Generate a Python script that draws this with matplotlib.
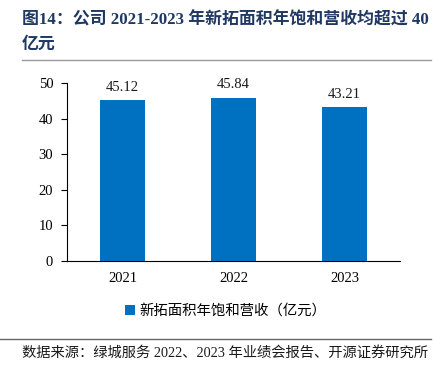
import matplotlib
matplotlib.use('Agg')
import matplotlib.pyplot as plt
from matplotlib.lines import Line2D

# Data
years = ['2021', '2022', '2023']
revenue = [45.12, 45.84, 43.21]
series_name = '新拓面积年饱和营收（亿元）'
title_1 = '图14：公司 2021-2023 年新拓面积年饱和营收均超过 40'
title_2 = '亿元'
source = '数据来源：绿城服务 2022、2023 年业绩会报告、开源证券研究所'

BLUE = '#0070C0'
NAVY = '#1F3864'
CJK = ['Liberation Serif', 'Noto Sans CJK SC']

plt.rcParams['font.family'] = CJK

fig = plt.figure(figsize=(4.33, 3.77), dpi=100)
fig.patch.set_facecolor('white')
ax = fig.add_axes([0.155, 0.308, 0.769, 0.472])

bars = ax.bar(years, revenue, width=0.4, color=BLUE, label=series_name, zorder=3)
for bar, val in zip(bars, revenue):
    ax.text(bar.get_x() + bar.get_width() / 2, val + 1.8, f'{val:.2f}',
            ha='center', va='bottom', fontsize=10.5, color='#1A1A1A')

ax.set_xlim(-0.5, 2.5)
ax.set_ylim(0, 50)
ax.set_yticks(range(0, 51, 10))
ax.spines['top'].set_visible(False)
ax.spines['right'].set_visible(False)
ax.spines['left'].set_color('#000000')
ax.spines['bottom'].set_color('#000000')
ax.tick_params(axis='y', direction='out', length=4, labelsize=10.5, pad=6)
ax.tick_params(axis='x', length=0, labelsize=10.5, pad=8)

ax.legend(loc='upper center', bbox_to_anchor=(0.475, -0.17), frameon=False,
          handlelength=0.7, handleheight=0.7, handletextpad=0.3,
          prop={'family': CJK, 'size': 10.4})

fig.text(0.05, 0.945, title_1, fontsize=12.2, fontweight='bold', color=NAVY,
         va='center', ha='left')
fig.text(0.05, 0.88, title_2, fontsize=12.2, fontweight='bold', color=NAVY,
         va='center', ha='left')
fig.add_artist(Line2D([0.05, 0.995], [0.84, 0.84], color='#999999', lw=1))
fig.add_artist(Line2D([0.0, 0.995], [0.1, 0.1], color='#666666', lw=1))
fig.text(0.05, 0.065, source, fontsize=10.3, color='#1A1A1A', va='center', ha='left')

fig.savefig('out.png', dpi=100, facecolor='white')
